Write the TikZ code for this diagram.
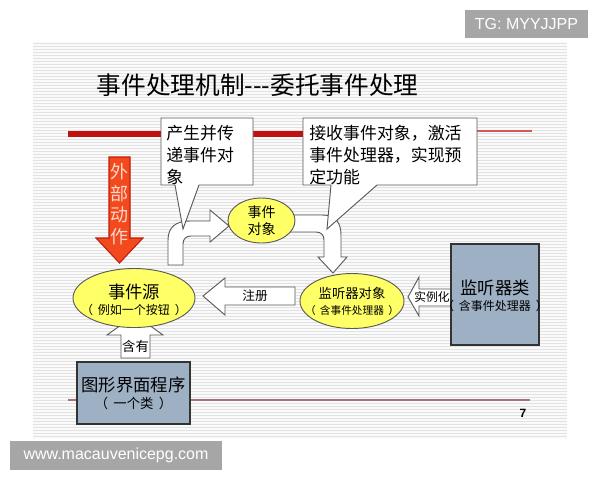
\documentclass[tikz,border=0pt]{standalone}
\usepackage{fontspec}
\setmainfont{Noto Sans CJK SC}
\newfontfamily\latinsf{Liberation Sans}
\usetikzlibrary{shapes,positioning}
\usetikzlibrary{calc}

\definecolor{slidebg}{RGB}{250,250,250}
\definecolor{stripe}{RGB}{226,226,226}
\definecolor{barred}{RGB}{192,16,16}
\definecolor{evyellow}{RGB}{255,255,102}
\definecolor{boxblue}{RGB}{158,176,196}
\definecolor{wmgray}{RGB}{166,166,166}
\definecolor{actred}{RGB}{242,74,30}
\definecolor{actdark}{RGB}{190,30,10}
\definecolor{acttext}{RGB}{255,215,200}
\definecolor{footline}{RGB}{160,118,124}
\definecolor{edgegray}{RGB}{90,90,90}

\begin{document}
\begin{tikzpicture}[x=0.75pt,y=-0.75pt,
  hollow/.style={fill=white,draw=edgegray,line width=0.7pt},
  evell/.style={ellipse,draw=edgegray,fill=evyellow,line width=0.7pt,inner sep=0pt},
  classbox/.style={rectangle,draw=black!80,fill=boxblue,line width=0.8pt,inner sep=0pt},
  callout/.style={fill=white,draw=edgegray,line width=0.7pt},
  calltext/.style={anchor=west,align=left,inner sep=0pt,font=\fontsize{12.7}{16.5}\selectfont},
  wmark/.style={fill=wmgray,text=white,inner sep=0pt,font=\latinsf\fontsize{12}{14}\selectfont}]

\useasboundingbox (0,0) rectangle (600,480);
\fill[white] (0,0) rectangle (600,480);

% slide
\fill[slidebg] (33,42) rectangle (567,439);
\foreach \y in {43,46,...,438}{\draw[stripe,line width=0.6pt] (33,\y)--(567,\y);}

\node[anchor=west,font=\fontsize{18.5}{20}\selectfont] (title) at (92,85) {事件处理机制-{}-{}-委托事件处理};

\draw[barred,line width=4.5pt] (68,134)--(310,134);
\draw[barred!70,line width=0.9pt] (470,131)--(532,131);
\draw[footline,line width=1.1pt] (68,400)--(530,400);
\node[font=\latinsf\bfseries\fontsize{9}{10}\selectfont] (pageno) at (523,413) {7};

% hollow arrows
\draw[hollow] (168,265) -- (168,240) .. controls (168,227) and (176,221) .. (190,221)
  -- (210,221) -- (210,210) -- (229,226) -- (210,242) -- (210,236) -- (191,236)
  .. controls (186,236) and (183,239) .. (183,244) -- (183,265) -- cycle;
\draw[hollow] (290,215) -- (322,215) .. controls (335,215) and (341,222) .. (341,235)
  -- (341,257) -- (347,257) -- (333,273) -- (318,257) -- (324,257) -- (324,240)
  .. controls (324,235) and (321,232) .. (316,232) -- (290,232) -- cycle;
\draw[hollow] (295,287) -- (225,287) -- (225,278) -- (203,296) -- (225,315)
  -- (225,305) -- (295,305) -- cycle;
\draw[hollow] (460,289) -- (419,289) -- (419,277) -- (408,297) -- (419,316)
  -- (419,306) -- (460,306) -- cycle;
\draw[hollow] (121,358) -- (121,335) -- (107,335) -- (135,315) -- (163,335)
  -- (150,335) -- (150,358) -- cycle;

% outside action
\draw[fill=actred,draw=actdark,line width=0.8pt] (109,157) -- (130,157) -- (130,238)
  -- (143,238) -- (119.5,263) -- (96,238) -- (109,238) -- cycle;
\foreach \c [count=\i] in {外,部,动,作}
  {\node[text=acttext,font=\fontsize{13.5}{14}\selectfont] (act\i) at (119.5,150+21.7*\i) {\c};}

% nodes
\node[evell,minimum width=50.25pt,minimum height=33.75pt] (evobj) at (261.5,220.5) {};
\node[evell,minimum width=91.5pt,minimum height=44.25pt] (evsrc) at (134,298) {};
\node[evell,minimum width=78pt,minimum height=41.25pt] (lsnobj) at (352,301) {};
\node[classbox,minimum width=84.75pt,minimum height=46.5pt] (gui) at (133.5,393) {};
\node[classbox,minimum width=66pt,minimum height=75.75pt] (lsncls) at (495,294.5) {};

% callouts
\draw[callout] (161,118) -- (253,118) -- (253,185) -- (199,185) -- (183,229)
  -- (175,185) -- (161,185) -- cycle;
\draw[callout] (303,118) -- (477,118) -- (477,185) -- (377,185) -- (327,229)
  -- (331,185) -- (303,185) -- cycle;
\node[calltext] (calla) at (166,155) {产生并传\\递事件对\\象};
\node[calltext] (callb) at (309,155) {接收事件对象，激活\\事件处理器，实现预\\定功能};

% texts
\node[align=center,inner sep=0pt,font=\fontsize{10.5}{12.75}\selectfont] (evobjtxt) at (evobj) {事件\\对象};
\node[inner sep=0pt,font=\fontsize{13}{15}\selectfont] (evsrctxt) at ($(evsrc)+(0,-6)$) {事件源};
\node[inner sep=0pt,font=\fontsize{9}{11}\selectfont] (evsrcsub) at ($(evsrc)+(0,12)$) {（\hspace{.4em}例如一个按钮\hspace{.4em}）};
\node[inner sep=0pt,font=\fontsize{10}{12}\selectfont] (lsnobjtxt) at ($(lsnobj)+(0,-8)$) {监听器对象};
\node[inner sep=0pt,font=\fontsize{8}{10}\selectfont] (lsnobjsub) at ($(lsnobj)+(0,9)$) {（\hspace{.4em}含事件处理器\hspace{.4em}）};
\node[inner sep=0pt,font=\fontsize{13}{15}\selectfont] (guitxt) at ($(gui)+(0,-8)$) {图形界面程序};
\node[inner sep=0pt,font=\fontsize{10}{12}\selectfont] (guisub) at ($(gui)+(0,10)$) {（\hspace{.4em}一个类\hspace{.4em}）};
\node[inner sep=0pt,font=\fontsize{13}{15}\selectfont] (lsncltxt) at ($(lsncls)+(0,-6.5)$) {监听器类};
\node[inner sep=0pt,font=\fontsize{9}{11}\selectfont] (lsnclsub) at ($(lsncls)+(0,11.5)$) {（\hspace{.4em}含事件处理器\hspace{.4em}）};
\node[inner sep=0pt,font=\fontsize{9.5}{11}\selectfont] (regtxt) at (255,296) {注册};
\node[inner sep=0pt,font=\fontsize{8.8}{10}\selectfont] (insttxt) at (432,297) {实例化};
\node[inner sep=0pt,font=\fontsize{10}{12}\selectfont] (hastxt) at (135.5,346) {含有};

% watermarks
\node[wmark,minimum width=92.25pt,minimum height=21pt] (tgmark) at (526.5,24) {TG: MYYJJPP};
\node[wmark,minimum width=159pt,minimum height=22pt] (urlmark) at (116,455.5) {www.macauvenicepg.com};

\end{tikzpicture}
\end{document}
